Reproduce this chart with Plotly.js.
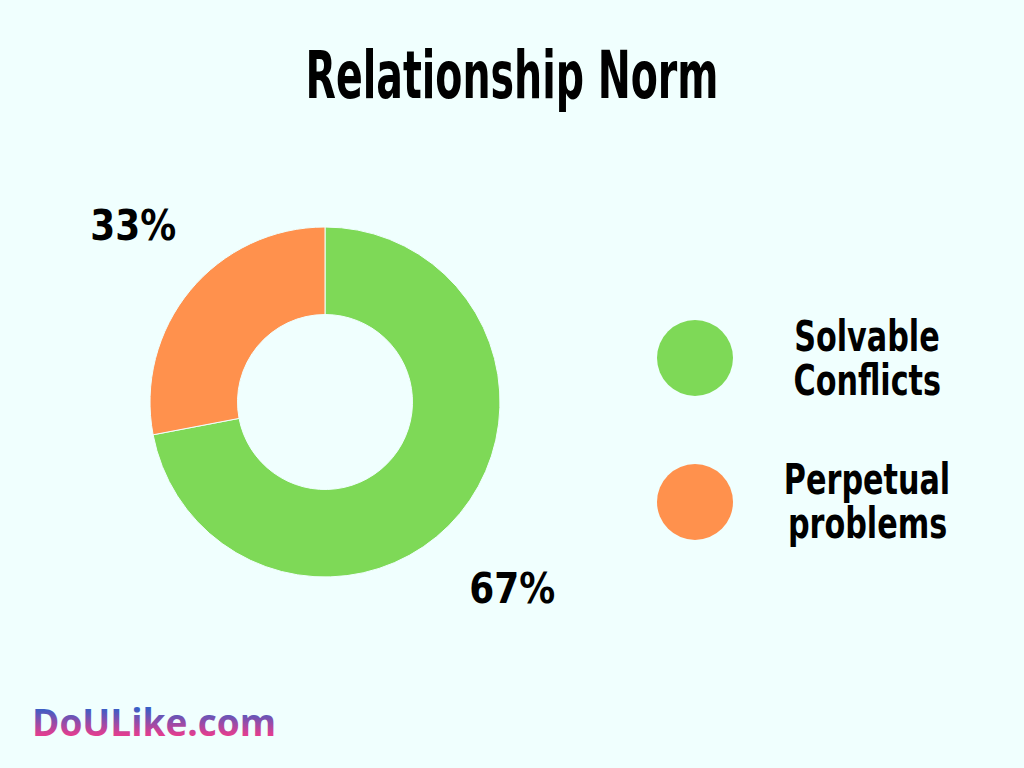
<!DOCTYPE html>
<html>
<head>
<meta charset="utf-8">
<script src="https://cdn.plot.ly/plotly-3.0.1.min.js"></script>
<style>
html,body{margin:0;padding:0;background:#F0FFFE;}
#chart{width:1024px;height:768px;}
</style>
</head>
<body>
<div id="chart"></div>
<script>
// Data
const categories = ["Solvable Conflicts", "Perpetual problems"];
const legendLines = [["Solvable", "Conflicts"], ["Perpetual", "problems"]];
const sliceShares = [72, 28];          // drawn proportions of the ring
const shareLabels = ["67%", "33%"];    // printed labels
const sliceColors = ["#7ED957", "#FF914D"];
const chartTitle = "Relationship Norm";
const watermark = "DoULike.com";

const bg = "#F0FFFE";
const heavy = "DejaVu Sans Condensed, DejaVu Sans, sans-serif";

const trace = {
  type: "pie",
  labels: categories,
  values: sliceShares,
  hole: 0.5,
  sort: false,
  direction: "clockwise",
  rotation: 0,
  textinfo: "none",
  hoverinfo: "label+percent",
  marker: {colors: sliceColors, line: {color: bg, width: 1}},
  domain: {x: [150/1024, 500/1024], y: [1 - 577/768, 1 - 227/768]},
  showlegend: false
};

const labelPos = [{x: 512/1024, y: 1 - 588/768}, {x: 133/1024, y: 1 - 226/768}];
const legendY = [358, 502];
const legendLineY = [[336, 380], [479, 523]];

const annotations = [];
shareLabels.forEach((t, i) => {
  annotations.push({
    text: "<b>" + t + "</b>", xref: "paper", yref: "paper",
    x: labelPos[i].x, y: labelPos[i].y, xanchor: "center", yanchor: "middle",
    showarrow: false, font: {family: heavy, size: 42, color: "#000"}
  });
});
legendLines.forEach((lines, i) => {
  lines.forEach((t, j) => {
    annotations.push({
      text: "<b>" + t + "</b>", xref: "paper", yref: "paper",
      x: 867/1024, y: 1 - legendLineY[i][j]/768, xanchor: "center", yanchor: "middle",
      showarrow: false, align: "center",
      font: {family: heavy, size: 42, color: "#000"}
    });
  });
});
annotations.push({
  text: "<b>" + watermark + "</b>", xref: "paper", yref: "paper",
  x: 30/1024, y: 1 - 721/768, xanchor: "left", yanchor: "middle",
  showarrow: false, font: {family: "Open Sans, sans-serif", size: 37, color: "#8A4FAE"}
});

const shapes = sliceColors.map((c, i) => ({
  type: "circle", xref: "paper", yref: "paper",
  x0: (695 - 38)/1024, x1: (695 + 38)/1024,
  y0: 1 - (legendY[i] + 38)/768, y1: 1 - (legendY[i] - 38)/768,
  fillcolor: c, line: {width: 0}
}));

const layout = {
  width: 1024, height: 768,
  margin: {l: 0, r: 0, t: 0, b: 0},
  paper_bgcolor: bg, plot_bgcolor: bg,
  title: {text: "<b>" + chartTitle + "</b>", x: 0.5, xanchor: "center", y: 1 - 75/768, yanchor: "middle",
          font: {family: heavy, size: 66, color: "#000"}},
  annotations: annotations,
  shapes: shapes,
  showlegend: false
};

function squeeze(el, s) {
  el.style.transformBox = "fill-box";
  el.style.transformOrigin = "center";
  el.style.transform = "scaleX(" + s + ")";
}

Plotly.newPlot("chart", [trace], layout, {displayModeBar: false, staticPlot: true}).then(gd => {
  const svg = gd.querySelector("svg.main-svg");
  const ns = "http://www.w3.org/2000/svg";
  let defs = svg.querySelector("defs");
  if (!defs) { defs = document.createElementNS(ns, "defs"); svg.insertBefore(defs, svg.firstChild); }
  const grad = document.createElementNS(ns, "linearGradient");
  grad.setAttribute("id", "wmgrad");
  grad.setAttribute("x1", "0"); grad.setAttribute("y1", "0");
  grad.setAttribute("x2", "0"); grad.setAttribute("y2", "1");
  [["0.25", "#3A5EC6"], ["0.75", "#E03E90"]].forEach(([o, c]) => {
    const s = document.createElementNS(ns, "stop");
    s.setAttribute("offset", o); s.setAttribute("stop-color", c);
    grad.appendChild(s);
  });
  defs.appendChild(grad);
  const legendWords = legendLines.flat();
  gd.querySelectorAll(".annotation-text").forEach(el => {
    const t = el.textContent;
    if (t === watermark) {
      el.style.fill = "url(#wmgrad)";
    } else if (legendWords.includes(t)) {
      squeeze(el, 0.8);
    } else if (shareLabels.includes(t)) {
      squeeze(el, 0.95);
    }
  });
  gd.querySelectorAll(".gtitle").forEach(el => squeeze(el, 0.665));
});
</script>
</body>
</html>
